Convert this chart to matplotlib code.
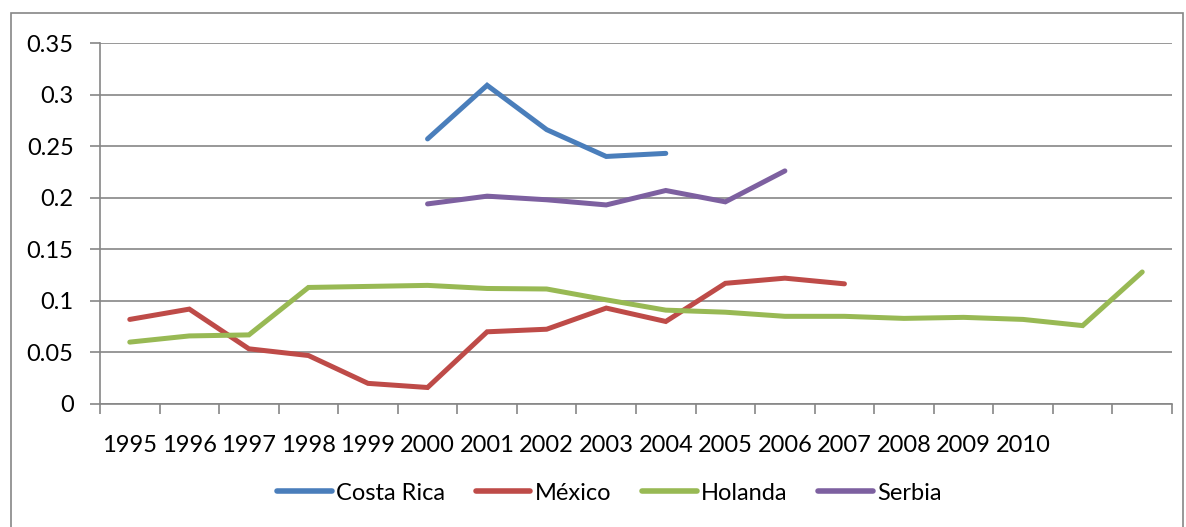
import numpy as np
import matplotlib.pyplot as plt
from matplotlib.patches import Rectangle
from matplotlib.ticker import FixedLocator

plt.rcParams['font.family'] = ['Lato', 'DejaVu Sans']

# category labels (last two categories have no label in the original)
years = ['1995', '1996', '1997', '1998', '1999', '2000', '2001', '2002', '2003',
         '2004', '2005', '2006', '2007', '2008', '2009', '2010', '', '']

nan = np.nan
costa_rica = [nan, nan, nan, nan, nan, 0.257, 0.309, 0.266, 0.240, 0.243,
              nan, nan, nan, nan, nan, nan, nan, nan]
mexico = [0.082, 0.092, 0.0535, 0.047, 0.020, 0.016, 0.070, 0.0725, 0.093, 0.080,
          0.117, 0.122, 0.1165, nan, nan, nan, nan, nan]
holanda = [0.060, 0.066, 0.067, 0.113, 0.114, 0.115, 0.112, 0.1115, 0.101, 0.091,
           0.089, 0.085, 0.085, 0.083, 0.084, 0.082, 0.076, 0.128]
serbia = [nan, nan, nan, nan, nan, 0.194, 0.2015, 0.198, 0.193, 0.207,
          0.196, 0.226, nan, nan, nan, nan, nan, nan]

series = [('Costa Rica', costa_rica, '#4A7EBB'),
          ('México', mexico, '#BE4B48'),
          ('Holanda', holanda, '#98B954'),
          ('Serbia', serbia, '#7D60A0')]

fs = 17

fig = plt.figure(figsize=(11.86, 5.27), dpi=100)
ax = fig.add_axes([100/1186, 1 - 404/527, 1072/1186, 361/527])

x = np.arange(len(years))
for name, vals, col in series:
    ax.plot(x, vals, color=col, lw=3.6, label=name, solid_capstyle='round',
            solid_joinstyle='miter')

grid_col = '#868686'
ax.set_xlim(-0.5, len(years) - 0.5)
ax.set_ylim(0, 0.35)
ax.set_yticks(np.arange(0, 0.351, 0.05))
ax.set_yticklabels(['0', '0.05', '0.1', '0.15', '0.2', '0.25', '0.3', '0.35'])
ax.yaxis.grid(True, color=grid_col, lw=1.2)
ax.set_axisbelow(True)

ax.set_xticks(x)
ax.set_xticklabels(years)
ax.xaxis.set_minor_locator(FixedLocator(np.arange(-0.5, len(years), 1)))
ax.tick_params(axis='x', which='major', length=0, pad=22, labelsize=fs)
ax.tick_params(axis='x', which='minor', length=7, color=grid_col, width=1.2)
ax.tick_params(axis='y', length=7, color=grid_col, width=1.2, pad=12, labelsize=fs)

for s in ['top', 'right']:
    ax.spines[s].set_visible(False)
for s in ['left', 'bottom']:
    ax.spines[s].set_color(grid_col)
    ax.spines[s].set_linewidth(1.2)

leg = fig.legend(loc='center', bbox_to_anchor=(0.514, 0.0645), ncol=4,
                 frameon=False, fontsize=fs, handlelength=2.3,
                 handletextpad=0.2, columnspacing=1.3)
for h in leg.get_lines():
    h.set_linewidth(4)

# outer chart border
fig.patches.append(Rectangle((11/1186, -0.01), 1172/1186, 1 - 13/527 + 0.01,
                             transform=fig.transFigure, fill=False,
                             edgecolor=grid_col, lw=1.2))

fig.savefig('out.png', dpi=100)
